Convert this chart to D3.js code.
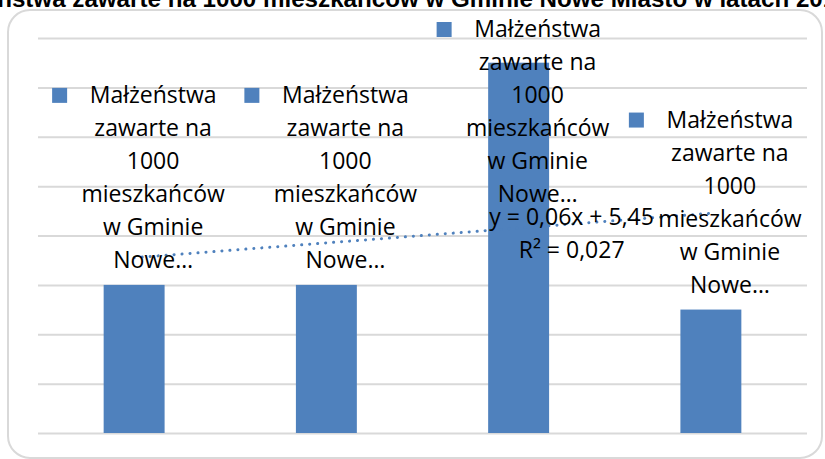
<!DOCTYPE html>
<html>
<head>
<meta charset="utf-8">
<script src="https://cdn.jsdelivr.net/npm/d3@7/dist/d3.min.js"></script>
<style>
  html, body { margin: 0; padding: 0; background: #fff; }
  svg { display: block; }
</style>
</head>
<body>
<svg id="chart" width="825" height="459"></svg>
<script>
// ---- data ----
const categories = ["2010", "2011", "2012", "2013"];
const values = [3, 3, 7.5, 2.5];
const yTicks = [0, 1, 2, 3, 4, 5, 6, 7, 8];
const seriesName = "Małżeństwa zawarte na 1000 mieszkańców w Gminie Nowe Miasto";
const labelLines = ["Małżeństwa", "zawarte na", "1000", "mieszkańców", "w Gminie", "Nowe…"];
const trendText = ["y = 0,06x + 5,45", "R² = 0,027"];
const titleText = "Małżeństwa zawarte na 1000 mieszkańców w Gminie Nowe Miasto w latach 2010-2013";

// ---- setup ----
const W = 825, H = 459;
const svg = d3.select("#chart");
const color = "#4f81bd";
const grid = "#d9d9d9";
const font = "'Open Sans', sans-serif";

const plot = { left: 38, right: 807, top: 38, bottom: 433 };

const x = d3.scaleBand().domain(categories)
  .range([plot.left, plot.right]).paddingInner(0.683).paddingOuter(0.683 / 2);
const y = d3.scaleLinear().domain([0, 8]).range([plot.bottom, plot.top]);

// chart border
svg.append("rect")
  .attr("x", 8).attr("y", 10).attr("width", 814).attr("height", 448)
  .attr("rx", 22).attr("ry", 22)
  .attr("fill", "#fff").attr("stroke", grid).attr("stroke-width", 2);

// gridlines via axis
const yAxis = d3.axisLeft(y).tickValues(yTicks).tickSize(-(plot.right - plot.left)).tickFormat("");
const gAxis = svg.append("g").attr("transform", `translate(${plot.left},0)`).call(yAxis);
gAxis.select(".domain").remove();
gAxis.selectAll(".tick line").attr("stroke", grid).attr("stroke-width", 2);

// bars
svg.append("g").selectAll("rect").data(values).join("rect")
  .attr("x", (d, i) => x(categories[i]))
  .attr("y", d => y(d))
  .attr("width", x.bandwidth())
  .attr("height", d => y(0) - y(d))
  .attr("fill", color);

// linear trendline (least squares on data, x = 1..n)
const n = values.length;
const xs = values.map((d, i) => i + 1);
const mx = d3.mean(xs), my = d3.mean(values);
const slope = d3.sum(xs.map((xv, i) => (xv - mx) * (values[i] - my))) / d3.sum(xs.map(xv => (xv - mx) ** 2));
const icpt = my - slope * mx;
const cx = i => x(categories[i]) + x.bandwidth() / 2;
const trendPts = [0, n - 1].map(i => [cx(i), y(icpt + slope * (i + 1))]);
svg.append("path")
  .attr("d", d3.line()(trendPts))
  .attr("fill", "none").attr("stroke", color).attr("stroke-width", 3)
  .attr("stroke-linecap", "round").attr("stroke-dasharray", "0.1 7.9");

// data labels (legend key + wrapped series name)
const lineH = 33, fs = 23;
const labels = svg.append("g").attr("font-family", font).attr("font-size", fs).attr("fill", "#000");
values.forEach((v, i) => {
  let lastBase = y(v) - 17;
  let firstBase = lastBase - (labelLines.length - 1) * lineH;
  if (firstBase < 37) { firstBase = 37; }
  const tx = cx(i) + 19;
  const g = labels.append("g");
  g.append("rect").attr("x", cx(i) - 82).attr("y", firstBase - 15)
    .attr("width", 15).attr("height", 15).attr("fill", color);
  labelLines.forEach((t, k) => {
    g.append("text").attr("x", tx).attr("y", firstBase + k * lineH)
      .attr("text-anchor", "middle").text(t);
  });
});

// trendline label
const tlx = cx(2) + 53;
const tly = y(icpt + slope * 3);
trendText.forEach((t, k) => {
  labels.append("text").attr("x", tlx).attr("y", tly - 3 + k * lineH)
    .attr("text-anchor", "middle").text(t);
});

// title (partially clipped by the top edge as in the reference)
const title = svg.append("text")
  .attr("font-family", "'Liberation Sans', Arial, sans-serif")
  .attr("font-weight", "bold").attr("font-size", 20)
  .attr("y", 7).attr("x", 0).attr("fill", "#000").text(titleText);
// fit: "mieszkańców" starts at ~263, "...latach 20" ends at ~823
const node = title.node();
const iStart = titleText.indexOf("mieszkańców");
const iEnd = titleText.indexOf("latach 20") + "latach 20".length;
const span = node.getSubStringLength(iStart, iEnd - iStart);
const newFs = 20 * (823 - 263) / span;
title.attr("font-size", newFs);
const pre = node.getSubStringLength(0, iStart);
title.attr("x", 263 - pre);
</script>
</body>
</html>
